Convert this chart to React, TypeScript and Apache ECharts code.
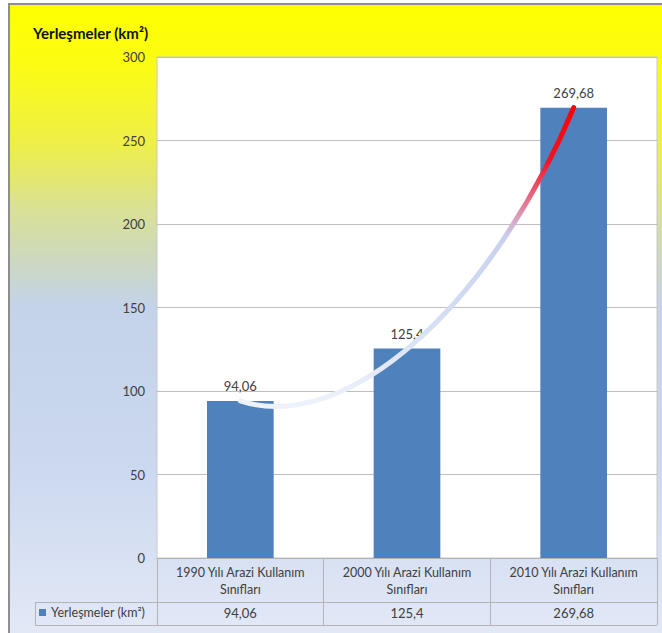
import React, { useEffect, useRef } from "react";
import * as echarts from "echarts";

const seriesName = "Yerleşmeler (km²)";
const categories = [
  "1990 Yılı Arazi Kullanım\nSınıfları",
  "2000 Yılı Arazi Kullanım\nSınıfları",
  "2010 Yılı Arazi Kullanım\nSınıfları",
];
const values = [94.06, 125.4, 269.68];
const yTicks = { min: 0, max: 300, interval: 50 };

const fmt = (v: number) => String(v).replace(".", ",");
const FONT = "Lato, 'Noto Sans', sans-serif";
const TXT = "#404040";
const LINE = "#B4B4B4";

export default function App() {
  const ref = useRef<HTMLDivElement>(null);
  useEffect(() => {
    if (!ref.current) return;
    const chart = echarts.init(ref.current, undefined, { renderer: "svg" });
    const option: any = {
      animation: false,
      textStyle: { fontFamily: FONT },
      grid: {
        left: 157,
        right: 5,
        top: 57,
        bottom: 75,
        show: true,
        backgroundColor: "#FFFFFF",
        borderColor: "#C8C8C8",
        borderWidth: 1,
      },
      legend: {
        data: [seriesName],
        left: 39,
        top: 606,
        padding: 0,
        icon: "rect",
        itemWidth: 7,
        itemHeight: 7,
        selectedMode: false,
        textStyle: { fontSize: 12.5, color: TXT, fontFamily: FONT },
      },
      xAxis: [
        {
          type: "category",
          data: categories,
          boundaryGap: true,
          axisLine: { show: true, lineStyle: { color: LINE } },
          axisTick: { show: true, interval: 0, length: 67, lineStyle: { color: LINE } },
          axisLabel: {
            interval: 0,
            margin: 6,
            fontSize: 12.5,
            lineHeight: 17,
            color: TXT,
            fontFamily: FONT,
          },
        },
        {
          type: "category",
          data: categories,
          position: "bottom",
          offset: 44,
          axisLine: { show: false },
          axisTick: { show: false },
          axisLabel: {
            interval: 0,
            margin: 4,
            fontSize: 13,
            color: TXT,
            fontFamily: FONT,
            formatter: (_v: string, i: number) => fmt(values[i]),
          },
        },
      ],
      yAxis: {
        type: "value",
        min: yTicks.min,
        max: yTicks.max,
        interval: yTicks.interval,
        axisLine: { show: false },
        axisTick: { show: false },
        axisLabel: { margin: 12, fontSize: 13, color: TXT, fontFamily: FONT },
        splitLine: { lineStyle: { color: "#BEBEBE", width: 1 } },
      },
      graphic: [
        {
          type: "text",
          left: 33,
          top: 25,
          style: {
            text: "Yerleşmeler (km²)",
            fontSize: 15,
            fontWeight: "bold",
            fontFamily: FONT,
            fill: "#111111",
          },
        },
        { type: "line", shape: { x1: 35, y1: 602.5, x2: 657, y2: 602.5 }, style: { stroke: LINE, lineWidth: 1 } },
        { type: "line", shape: { x1: 35, y1: 625.5, x2: 657, y2: 625.5 }, style: { stroke: LINE, lineWidth: 1 } },
        { type: "line", shape: { x1: 35.5, y1: 602, x2: 35.5, y2: 626 }, style: { stroke: LINE, lineWidth: 1 } },
      ],
      series: [
        {
          name: seriesName,
          type: "bar",
          data: values,
          barWidth: "40%",
          itemStyle: { color: "#4F81BD" },
          label: {
            show: true,
            position: "top",
            distance: 8,
            fontSize: 13,
            color: TXT,
            fontFamily: FONT,
            formatter: (p: any) => fmt(p.value),
          },
        },
        {
          name: "trend",
          type: "custom",
          z: 10,
          silent: true,
          data: values.map((v, i) => [i, v]),
          renderItem: (params: any, api: any) => {
            if (params.dataIndex !== 0) return null;
            const p0 = api.coord([0, values[0]]);
            const p2 = api.coord([values.length - 1, values[values.length - 1]]);
            const dx = p2[0] - p0[0];
            const dy = p0[1] - p2[1];
            return {
              type: "bezierCurve",
              shape: {
                x1: p0[0],
                y1: p0[1],
                cpx1: p0[0] + 0.313 * dx,
                cpy1: p0[1] + 0.116 * dy,
                cpx2: p0[0] + 0.746 * dx,
                cpy2: p2[1] + 0.69 * dy,
                x2: p2[0],
                y2: p2[1],
              },
              style: {
                fill: "none",
                lineWidth: 5,
                lineCap: "round",
                stroke: new echarts.graphic.LinearGradient(0, 0, 0, 1, [
                  { offset: 0, color: "#FF0000" },
                  { offset: 0.18, color: "#F01426" },
                  { offset: 0.33, color: "#E2809C" },
                  { offset: 0.43, color: "#C9D0EE" },
                  { offset: 0.7, color: "#D3DEF3" },
                  { offset: 1, color: "#EEF2FA" },
                ]),
              },
            };
          },
        },
      ],
    };
    chart.setOption(option);
    return () => chart.dispose();
  }, []);

  return (
    <div style={{ position: "fixed", left: 0, top: 0, width: 662, height: 633, background: "#FFFFFF" }}>
      <div
        style={{
          position: "absolute",
          left: 8,
          top: 3,
          right: 0,
          bottom: 0,
          borderLeft: "2px solid #8E8E8E",
          borderTop: "2px solid #8E8E8E",
          background:
            "linear-gradient(to bottom, #FFFF00 0%, #FCFC12 9%, #EEEF48 22%, #D9E098 33%, #CCD8C2 41%, #C4D3EA 48%, #CAD7EF 71%, #E2E8F6 100%)",
        }}
      />
      <div ref={ref} style={{ position: "absolute", left: 0, top: 0, width: 662, height: 633 }} />
    </div>
  );
}
